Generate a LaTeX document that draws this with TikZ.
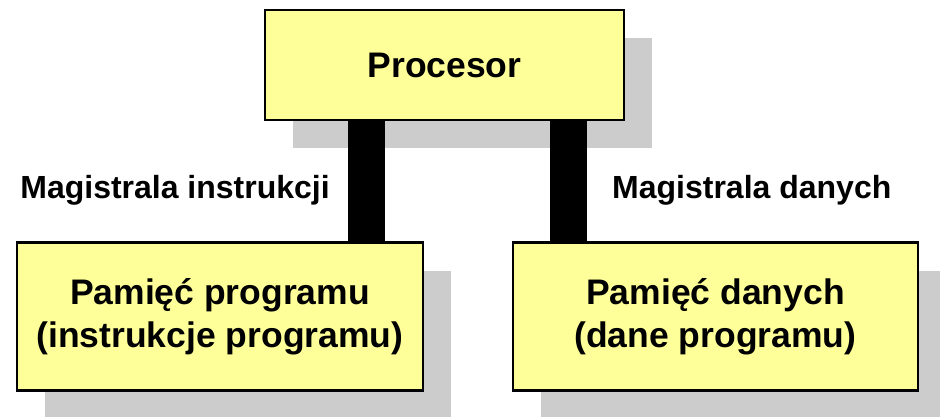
\documentclass[tikz,border=0pt]{standalone}
\usepackage{fontspec}
\setmainfont{Liberation Sans}
\usepackage{tikz}
\usetikzlibrary{positioning, shadows, calc}
\definecolor{boxyellow}{HTML}{FFFF99}
\definecolor{shadowgray}{HTML}{CCCCCC}

\tikzset{
  unitbox/.style={draw=black, line width=2.8pt, fill=boxyellow,
    font=\fontsize{35.5}{43}\selectfont\bfseries, align=center,
    inner sep=0pt,
    drop shadow={shadow xshift=28pt, shadow yshift=-28pt,
      fill=shadowgray, opacity=1, draw=none}},
  bus/.style={line width=37pt, black},
  buslabel/.style={font=\fontsize{32}{36}\selectfont\bfseries, inner sep=0pt}
}

\begin{document}
\begin{tikzpicture}[x=1pt, y=1pt]
\useasboundingbox (0,0) rectangle (940,-416);

\node (proc) [unitbox, minimum width=359pt, minimum height=110pt] at (444.5,-65) {Procesor};
\node (progmem) [unitbox, minimum width=406pt, minimum height=148pt,
  below=120pt of proc, xshift=-224.5pt] {Pamięć programu\\(instrukcje programu)};
\node (datamem) [unitbox, minimum width=405pt, minimum height=148pt,
  below=120pt of proc, xshift=271pt] {Pamięć danych\\(dane programu)};

\draw[bus] ([xshift=-78pt]proc.south) -- ([xshift=-78pt]proc.south |- progmem.north);
\draw[bus] ([xshift=124pt]proc.south) -- ([xshift=124pt]proc.south |- datamem.north);

\node (ilabel) [buslabel, anchor=east] at (330,-190) {Magistrala instrukcji};
\node (dlabel) [buslabel, anchor=west] at (612,-190) {Magistrala danych};
\end{tikzpicture}
\end{document}
